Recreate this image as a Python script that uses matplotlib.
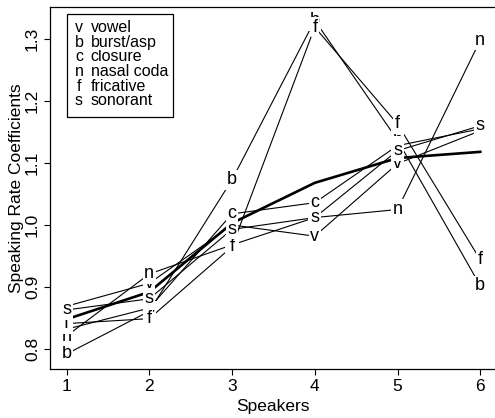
import matplotlib
matplotlib.use("Agg")
import matplotlib.pyplot as plt
from matplotlib.patches import Rectangle

plt.rcParams['font.family'] = ['Liberation Sans', 'DejaVu Sans']

speakers = [1, 2, 3, 4, 5, 6]

# one series per segment class, drawn in this order (later letters sit on top)
keys = ['v', 'b', 'c', 'n', 'f', 's']
names = ['vowel', 'burst/asp', 'closure', 'nasal coda', 'fricative', 'sonorant']
vowel = [0.869, 0.906, 1.000, 0.982, 1.099, 1.152]
burst = [0.792, 0.861, 1.073, 1.330, 1.137, 0.902]
closure = [0.832, 0.866, 1.018, 1.036, 1.128, 1.155]
nasal = [0.821, 0.921, 0.968, 1.012, 1.025, 1.298]
fricative = [0.841, 0.849, 0.965, 1.319, 1.163, 0.944]
sonorant = [0.863, 0.881, 0.993, 1.012, 1.120, 1.160]
series = [vowel, burst, closure, nasal, fricative, sonorant]

# overall speaker rate (thick line)
overall = [0.848, 0.892, 1.003, 1.068, 1.108, 1.118]

fs = 12.5

fig = plt.figure(figsize=(4.95, 4.18), dpi=100)
ax = fig.add_axes([50 / 495, (418 - 369.3) / 418, 446.8 / 495, 362.3 / 418])

for vals in series:
    ax.plot(speakers, vals, color='black', lw=0.8, zorder=2)
ax.plot(speakers, overall, color='black', lw=1.9, zorder=2.5)

for i, (k, vals) in enumerate(zip(keys, series)):
    for x, y in zip(speakers, vals):
        ax.text(x, y, k, ha='center', va='center', fontsize=13, zorder=4 + i,
                bbox=dict(fc='white', ec='none', pad=1.2))

ax.set_xlim(0.8, 6.2)
ax.set_ylim(0.7673, 1.3516)
ax.set_xticks(speakers)
ax.set_yticks([0.8, 0.9, 1.0, 1.1, 1.2, 1.3])
ax.set_yticklabels(['0.8', '0.9', '1.0', '1.1', '1.2', '1.3'])
ax.tick_params(length=4.2, width=0.8, labelsize=fs, pad=3)
for lbl in ax.get_yticklabels():
    lbl.set_rotation(90)
    lbl.set_va('center')
for sp in ax.spines.values():
    sp.set_linewidth(0.9)


def axy(py):
    return 1 - (py - 7) / 362.3


def axx(px):
    return (px - 50) / 446.8


ax.set_xlabel('Speakers', fontsize=fs, va='center')
ax.xaxis.set_label_coords(0.5, axy(407))
ax.set_ylabel('Speaking Rate Coefficients', fontsize=fs, va='center')
ax.yaxis.set_label_coords(axx(17), 0.5)

# legend box drawn by hand, rows overlap like the original
ax.add_patch(Rectangle((axx(66.7), axy(117.3)), axx(173.3) - axx(66.7), axy(14) - axy(117.3),
                       transform=ax.transAxes, fc='white', ec='black', lw=0.9, zorder=20))
for j in range(len(keys) - 1, -1, -1):
    yy = axy(27.5 + 14.66 * j)
    ax.text(axx(79), yy, keys[j], transform=ax.transAxes, ha='center', va='center',
            fontsize=11.5, zorder=21 + (6 - j), bbox=dict(fc='white', ec='none', pad=0))
    ax.text(axx(90.7), yy, names[j], transform=ax.transAxes, ha='left', va='center',
            fontsize=11.5, zorder=21 + (6 - j), bbox=dict(fc='white', ec='none', pad=0))

fig.savefig('out.png', dpi=100)
